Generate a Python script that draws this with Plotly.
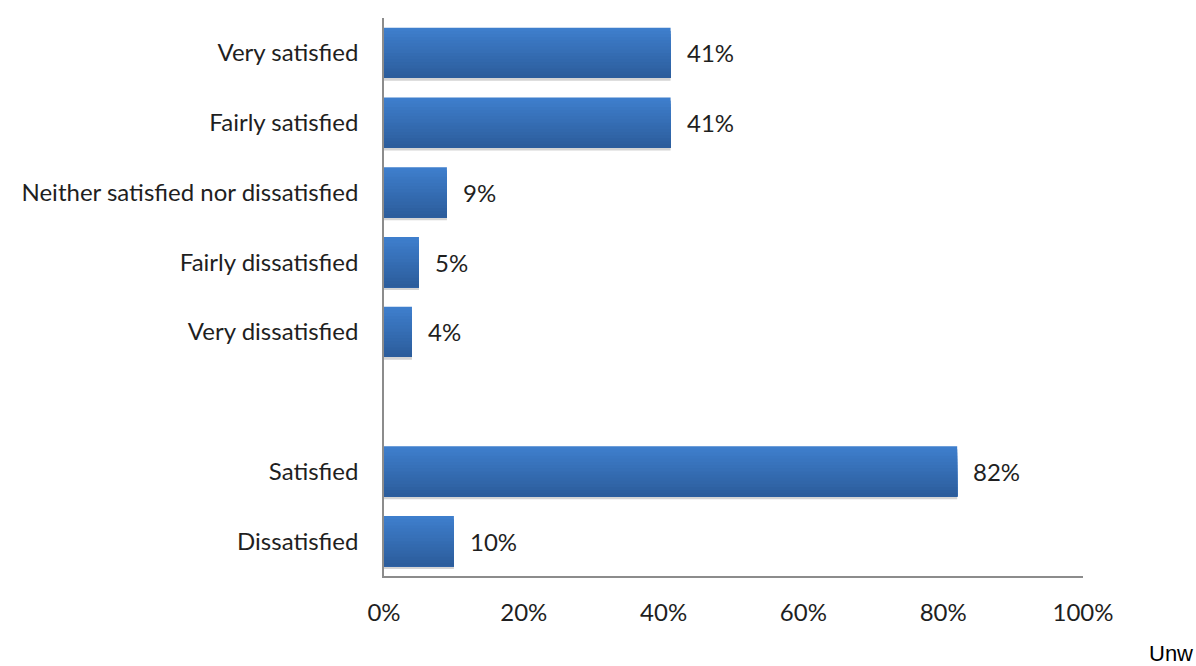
import plotly.graph_objects as go

# Survey responses: share of respondents per satisfaction level
categories = [
    "Very satisfied",
    "Fairly satisfied",
    "Neither satisfied nor dissatisfied",
    "Fairly dissatisfied",
    "Very dissatisfied",
    " ",
    "Satisfied",
    "Dissatisfied",
]
values = [41, 41, 9, 5, 4, None, 82, 10]
x_ticks = [0, 20, 40, 60, 80, 100]
x_tick_labels = ["0%", "20%", "40%", "60%", "80%", "100%"]

FONT = "Lato, 'Open Sans', sans-serif"
TEXT_COLOR = "#1f1f1f"
AXIS_COLOR = "#8c8c8c"
BAR_WIDTH = 0.72

fig = go.Figure()

# Soft drop shadow beneath each bar
fig.add_trace(go.Bar(
    y=categories, x=values, orientation="h",
    width=BAR_WIDTH, offset=-BAR_WIDTH / 2 + 0.04,
    marker=dict(color="rgba(60,60,60,0.22)", line=dict(width=0)),
    hoverinfo="skip", showlegend=False,
))

# Vertical gradient on the bars: each layer covers from its start down to the
# bar's bottom edge, so successive darker layers stack without seams
top_rgb = (62, 126, 204)
bottom_rgb = (44, 93, 156)
n_layers = 16
step = BAR_WIDTH / n_layers
for i in range(n_layers):
    t = i / (n_layers - 1)
    r, g, b = (round(a + (c - a) * t) for a, c in zip(top_rgb, bottom_rgb))
    fig.add_trace(go.Bar(
        y=categories, x=values, orientation="h",
        width=BAR_WIDTH - i * step, offset=-BAR_WIDTH / 2 + i * step,
        marker=dict(color=f"rgb({r},{g},{b})", line=dict(width=0)),
        hoverinfo="skip", showlegend=False,
    ))

# Value labels to the right of each bar
for cat, val in zip(categories, values):
    if val is None:
        continue
    fig.add_annotation(
        x=val, y=cat, text=f"{val}%", showarrow=False,
        xanchor="left", yanchor="middle", xshift=14,
        font=dict(family=FONT, size=24, color=TEXT_COLOR),
    )

fig.add_annotation(
    x=1.091, y=-0.138, xref="paper", yref="paper", text="Unw",
    showarrow=False, xanchor="left", yanchor="middle",
    font=dict(family="'Liberation Sans', Arial, sans-serif", size=22, color="#000000"),
)

fig.update_layout(
    width=1196, height=666,
    margin=dict(l=384, r=113, t=18, b=90),
    paper_bgcolor="white", plot_bgcolor="white",
    barmode="overlay",
    font=dict(family=FONT, size=24, color=TEXT_COLOR),
    xaxis=dict(
        range=[0, 100], tickvals=x_ticks, ticktext=x_tick_labels,
        showgrid=False, zeroline=False,
        showline=True, linecolor=AXIS_COLOR, linewidth=1.5,
        ticks="", ticklabelstandoff=14,
        tickfont=dict(family=FONT, size=24, color=TEXT_COLOR),
    ),
    yaxis=dict(
        type="category", categoryorder="array", categoryarray=categories,
        autorange="reversed",
        showgrid=False, zeroline=False,
        showline=True, linecolor=AXIS_COLOR, linewidth=1.5,
        ticks="", ticklabelstandoff=19,
        tickfont=dict(family=FONT, size=24, color=TEXT_COLOR),
    ),
)

fig.write_html("out.html")
